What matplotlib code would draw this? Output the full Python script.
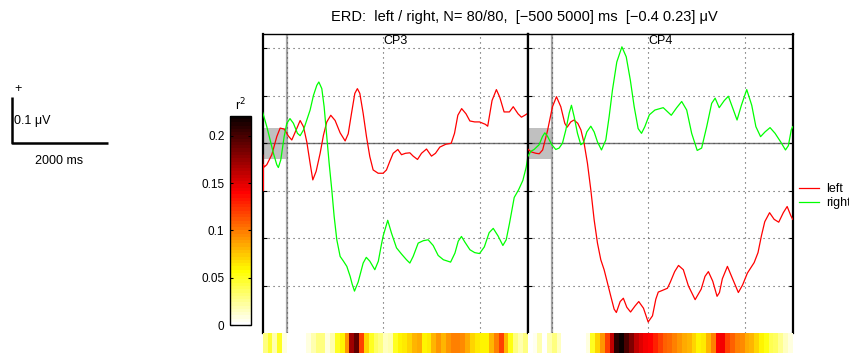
import matplotlib.pyplot as plt
import numpy as np

plt.rcParams['font.family'] = ['Liberation Sans', 'DejaVu Sans']

# ---- averaged ERD curves (ms, uV) ----
cp3_left_t = [-500, -493, -485, -470, -415, -311, -208, -138, -55, 35, 104, 194, 277, 346, 415,
              484, 540, 609, 692, 761, 830, 913, 1003, 1107, 1211, 1275, 1343, 1412, 1465,
              1516, 1585, 1654, 1723, 1792, 1896, 2000, 2069, 2138, 2208, 2305, 2381, 2464,
              2554, 2623, 2713, 2796, 2900, 3003, 3086, 3176, 3300, 3412, 3481, 3550, 3629,
              3720, 3800, 3900, 4000, 4120, 4170, 4260, 4350, 4420, 4510, 4620, 4700, 4800,
              4870, 4940, 5000]
cp3_left = [-0.025, -0.100, -0.045, -0.050, -0.045, -0.024, 0.014, 0.032, 0.030, 0.015, 0.007,
            0.028, 0.048, 0.035, 0.003, -0.042, -0.077, -0.059, -0.021, 0.017, 0.045, 0.059,
            0.048, 0.022, 0.005, 0.020, 0.063, 0.105, 0.115, 0.105, 0.063, 0.014, -0.028,
            -0.056, -0.063, -0.063, -0.056, -0.038, -0.021, -0.013, -0.024, -0.021, -0.020,
            -0.027, -0.034, -0.021, -0.012, -0.027, -0.021, -0.008, -0.002, 0.000, 0.021,
            0.059, 0.073, 0.062, 0.047, 0.045, 0.045, 0.040, 0.036, 0.090, 0.113, 0.097,
            0.066, 0.066, 0.077, 0.062, 0.055, 0.059, 0.063]

cp3_right_t = [-500, -415, -346, -277, -208, -175, -125, -55, 0, 66, 138, 221, 277, 346, 415,
               484, 554, 623, 665, 727, 775, 830, 879, 934, 983, 1038, 1107, 1176, 1246, 1315,
               1356, 1405, 1481, 1585, 1650, 1723, 1827, 1900, 1960, 2000, 2095, 2173, 2277,
               2381, 2484, 2554, 2623, 2727, 2831, 2934, 3038, 3142, 3250, 3400, 3490, 3558,
               3625, 3697, 3801, 3900, 4000, 4100, 4200, 4285, 4385, 4485, 4554, 4623, 4720,
               4810, 4900, 4969, 5000]
cp3_right = [0.065, 0.035, 0.007, -0.021, -0.045, -0.051, -0.035, 0.014, 0.042, 0.052, 0.042,
             0.021, 0.016, 0.028, 0.049, 0.070, 0.101, 0.122, 0.129, 0.115, 0.077, 0.014,
             -0.042, -0.098, -0.154, -0.203, -0.238, -0.248, -0.259, -0.280, -0.296, -0.311,
             -0.292, -0.252, -0.240, -0.248, -0.266, -0.248, -0.215, -0.195, -0.162, -0.189,
             -0.220, -0.233, -0.245, -0.252, -0.238, -0.210, -0.205, -0.203, -0.215, -0.236,
             -0.245, -0.250, -0.231, -0.206, -0.196, -0.208, -0.224, -0.230, -0.232, -0.218,
             -0.188, -0.179, -0.195, -0.215, -0.203, -0.168, -0.114, -0.098, -0.078, -0.050,
             -0.030]

cp4_left_t = [-500, -430, -330, -260, -190, -90, 14, 97, 187, 270, 320, 394, 460, 540, 605,
              671, 740, 810, 879, 948, 1017, 1086, 1156, 1225, 1294, 1340, 1419, 1485, 1557,
              1635, 1730, 1805, 1903, 2000, 2090, 2159, 2210, 2284, 2400, 2460, 2550, 2630,
              2730, 2835, 2975, 3100, 3180, 3250, 3340, 3430, 3480, 3540, 3645, 3760, 3872,
              3960, 4060, 4200, 4280, 4350, 4420, 4520, 4615, 4710, 4805, 4885, 4960, 5000]
cp4_left = [-0.012, -0.018, -0.021, -0.022, -0.014, 0.026, 0.077, 0.098, 0.077, 0.042, 0.034,
            0.045, 0.049, 0.042, 0.028, 0.000, -0.042, -0.098, -0.161, -0.210, -0.245, -0.266,
            -0.294, -0.322, -0.349, -0.356, -0.333, -0.326, -0.345, -0.355, -0.342, -0.333,
            -0.347, -0.376, -0.363, -0.328, -0.313, -0.310, -0.305, -0.292, -0.270, -0.257,
            -0.266, -0.300, -0.329, -0.307, -0.280, -0.270, -0.290, -0.322, -0.314, -0.285,
            -0.259, -0.287, -0.314, -0.298, -0.273, -0.251, -0.230, -0.195, -0.165, -0.146,
            -0.160, -0.166, -0.146, -0.133, -0.152, -0.160]

cp4_right_t = [-500, -436, -367, -263, -194, -145, -90, 0, 83, 152, 221, 291, 360, 408, 464,
               533, 602, 657, 727, 810, 879, 948, 1031, 1121, 1190, 1259, 1349, 1455, 1545,
               1630, 1710, 1792, 1862, 1931, 2025, 2140, 2313, 2480, 2593, 2696, 2800, 2903,
               3018, 3110, 3215, 3318, 3390, 3475, 3580, 3665, 3770, 3845, 3935, 4046, 4150,
               4236, 4333, 4426, 4530, 4634, 4750, 4850, 4910, 4970, 5000]
cp4_right = [-0.028, -0.017, -0.013, -0.003, 0.014, 0.022, 0.015, -0.003, -0.013, -0.010, 0.000,
             0.028, 0.063, 0.080, 0.056, 0.021, -0.003, 0.001, 0.024, 0.036, 0.024, 0.003,
             -0.014, 0.007, 0.056, 0.112, 0.171, 0.203, 0.182, 0.133, 0.077, 0.031, 0.021,
             0.035, 0.060, 0.070, 0.075, 0.059, 0.075, 0.088, 0.070, 0.021, -0.015, -0.010,
             0.035, 0.084, 0.095, 0.075, 0.090, 0.099, 0.070, 0.049, 0.080, 0.113, 0.080,
             0.035, 0.014, 0.024, 0.033, 0.021, 0.003, -0.014, -0.005, 0.028, 0.035]

# ---- r^2 per 100 ms bin, -500 .. 5000 ms ----
r2_edges = np.arange(-500, 5001, 100)
cp3_r2 = [0.03, 0.045, 0.02, 0.05, 0.01, 0.0, 0.0, 0.0, 0.0, 0.01, 0.02, 0.03, 0.03, 0.01,
          0.02, 0.05, 0.06, 0.09, 0.17, 0.19, 0.12, 0.07, 0.05, 0.035, 0.03, 0.015, 0.02,
          0.05, 0.06, 0.065, 0.07, 0.08, 0.085, 0.06, 0.065, 0.08, 0.09, 0.08, 0.09, 0.1,
          0.1, 0.095, 0.085, 0.07, 0.065, 0.06, 0.06, 0.08, 0.1, 0.12, 0.08, 0.055, 0.03,
          0.02, 0.03]
cp4_r2 = [0.0, 0.005, 0.02, 0.0, 0.02, 0.03, 0.015, 0.0, 0.0, 0.0, 0.0, 0.0, 0.01, 0.05,
          0.07, 0.09, 0.12, 0.16, 0.21, 0.22, 0.2, 0.18, 0.16, 0.15, 0.145, 0.14, 0.13, 0.12,
          0.11, 0.105, 0.1, 0.09, 0.085, 0.08, 0.07, 0.06, 0.065, 0.08, 0.1, 0.14, 0.145,
          0.12, 0.11, 0.1, 0.095, 0.085, 0.08, 0.07, 0.06, 0.055, 0.04, 0.035, 0.025, 0.015,
          0.01]

channels = ['CP3', 'CP4']
classes = ['left', 'right']
colors = ['#ff0000', '#00ff00']
ival = [-500, 5000]
yl = [-0.4, 0.23]
base_box = 0.032
r2_max = 0.221

W, H = 849, 354
fig = plt.figure(figsize=(W / 100, H / 100), dpi=100)


def rect(x0, y0, x1, y1):
    return [x0 / W, 1 - y1 / H, (x1 - x0) / W, (y1 - y0) / H]


cmap = plt.get_cmap('hot_r', 64)
curves = [((cp3_left_t, cp3_left), (cp3_right_t, cp3_right)),
          ((cp4_left_t, cp4_left), (cp4_right_t, cp4_right))]
r2s = [cp3_r2, cp4_r2]
x0s = [262.7, 527.7]
handles = []

for k, ch in enumerate(channels):
    x0 = x0s[k]
    ax = fig.add_axes(rect(x0, 34, x0 + 265, 333.4))
    ax.set_xlim(ival)
    ax.set_ylim(yl)
    ax.fill_between([ival[0], 0], -base_box, base_box, color='#c0c0c0', lw=0, zorder=0)
    ax.axvline(0, color='0.65', lw=1.6, zorder=1)
    ax.axhline(0, color='0.45', lw=1.0, zorder=1)
    ax.set_xticks([0, 2000, 4000])
    ax.set_yticks([-0.3, -0.2, -0.1, 0, 0.1, 0.2])
    ax.grid(True, linestyle=(0, (1, 3.5)), color='0.3', lw=0.8)
    ax.tick_params(labelleft=False, labelbottom=False, direction='in', length=3,
                   left=True, right=True, bottom=False, width=0.8)
    for (t, v), c, lab in zip(curves[k], colors, classes):
        h, = ax.plot(t, v, color=c, lw=0.9, label=lab, zorder=3)
        if k == 1:
            handles.append(h)
    ax.spines['bottom'].set_visible(False)
    ax.spines['top'].set_linewidth(1.0)
    ax.spines['left'].set_linewidth(1.6)
    ax.spines['right'].set_linewidth(1.6)
    ax.text(0.5, 0.995, ch, transform=ax.transAxes, ha='center', va='top', fontsize=9)

    sx = fig.add_axes(rect(x0, 333.4, x0 + 265, 353.3))
    sx.pcolormesh(r2_edges, [0, 1], np.array([r2s[k]]), cmap=cmap, vmin=0, vmax=r2_max)
    sx.set_xlim(ival)
    sx.axis('off')

# colorbar for r^2
cax = fig.add_axes(rect(230, 115.7, 250.7, 325.3))
sm = plt.cm.ScalarMappable(cmap=cmap, norm=plt.Normalize(0, r2_max))
cb = fig.colorbar(sm, cax=cax)
cb.set_ticks([0, 0.05, 0.1, 0.15, 0.2])
cb.set_ticklabels(['0', '0.05', '0.1', '0.15', '0.2'])
cax.yaxis.set_ticks_position('both')
cax.yaxis.set_label_position('left')
cax.tick_params(labelleft=True, labelright=False, direction='in', length=2.5,
                labelsize=8.5, pad=4)
cb.outline.set_linewidth(1.0)
cax.text(0.5, 1.01, 'r$^2$', transform=cax.transAxes, ha='center', va='bottom', fontsize=9)

# scale bar
bx = fig.add_axes(rect(11.7, 96.7, 107.7, 143.3))
bx.set_xlim(0, 2000)
bx.set_ylim(0, 0.1)
bx.plot([0, 0, 2000], [0.1, 0, 0], color='k', lw=1.8, clip_on=False,
        solid_capstyle='butt')
bx.axis('off')
fig.text(18 / W, 1 - 89 / H, '+', ha='center', va='center', fontsize=9)
fig.text(14 / W, 1 - 121 / H, '0.1 \u03bcV', ha='left', va='center', fontsize=9)
fig.text(59 / W, 1 - 161 / H, '2000 ms', ha='center', va='center', fontsize=9)

fig.legend(handles, classes, loc='upper left', bbox_to_anchor=(799 / W, 1 - 183.5 / H),
           frameon=False, fontsize=9, handlelength=1.6, handletextpad=0.55,
           borderpad=0, borderaxespad=0, labelspacing=0.15)

fig.text(524.7 / W, 1 - 17 / H,
         'ERD:  left / right, N= 80/80,  [\u2212500 5000] ms  [\u22120.4 0.23] \u03bcV',
         ha='center', va='center', fontsize=10.5)

fig.savefig('out.png', dpi=100)
